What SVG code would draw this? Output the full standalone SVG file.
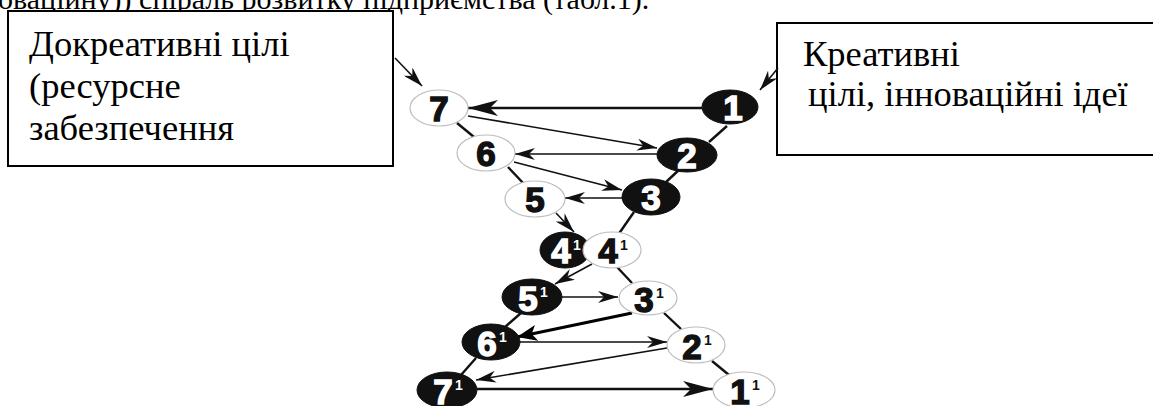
<svg xmlns="http://www.w3.org/2000/svg" width="1153" height="406" viewBox="0 0 1153 406">
<style>
.box{fill:#fff;stroke:#000;stroke-width:2}
.bt{font-family:'Liberation Serif','Times New Roman',serif;font-size:36.5px;fill:#000}
.wn{fill:#fff;stroke:#bdbdbd;stroke-width:1.2}
.bn{fill:#111;stroke:#111;stroke-width:1}
.lw{font-family:'Liberation Sans',Arial,sans-serif;font-weight:bold;font-size:35px;fill:#111;stroke:#111;stroke-width:1.4;text-anchor:middle}
.lb{font-family:'Liberation Sans',Arial,sans-serif;font-weight:bold;font-size:35px;fill:#fff;stroke:#fff;stroke-width:1.4;text-anchor:middle}
.sw{font-family:'Liberation Sans',Arial,sans-serif;font-weight:bold;font-size:14px;fill:#111}
.sb{font-family:'Liberation Sans',Arial,sans-serif;font-weight:bold;font-size:14px;fill:#fff}
.ln{stroke:#111;stroke-width:2.4;fill:none}
.ar{stroke:#111;stroke-width:1.6;fill:none;marker-end:url(#ah)}
.arb{stroke:#111;stroke-width:2.4;fill:none;marker-end:url(#ahb)}
.ark{stroke:#000;stroke-width:3.2;fill:none;marker-end:url(#ahk)}
</style>
<defs>
<marker id="ah" markerUnits="userSpaceOnUse" markerWidth="22" markerHeight="12" refX="20" refY="6" orient="auto">
<path d="M0,0 L20,6 L0,12 L6,6 z" fill="#111"/>
</marker>
<marker id="ahb" markerUnits="userSpaceOnUse" markerWidth="32" markerHeight="16" refX="30" refY="8" orient="auto">
<path d="M0,0 L30,8 L0,16 L8,8 z" fill="#111"/>
</marker>
<marker id="ahk" markerUnits="userSpaceOnUse" markerWidth="22" markerHeight="16" refX="20" refY="8" orient="auto">
<path d="M0,0 L20,8 L0,16 L5,8 z" fill="#000"/>
</marker>
</defs>

<text x="-2" y="9" font-family="Liberation Serif, Times New Roman, serif" font-size="30" fill="#000">оваційну)) спіраль розвитку підприємства (табл.1).</text>

<g id="box-left">
<rect class="box" x="8" y="11" width="385" height="155"/>
<text class="bt" x="29" y="56">Докреативні цілі</text>
<text class="bt" x="29" y="98">(ресурсне</text>
<text class="bt" x="29" y="140">забезпечення</text>
</g>
<g id="box-right">
<rect class="box" x="777" y="23" width="390" height="132"/>
<text class="bt" x="803" y="66">Креативні</text>
<text class="bt" x="808" y="106">цілі, інноваційні ідеї</text>
</g>

<g id="connectors">
<line class="ln" x1="457" y1="123" x2="474" y2="137"/>
<line class="ln" x1="508" y1="167" x2="524" y2="184"/>
<line class="ln" x1="727" y1="126" x2="709" y2="142"/>
<line class="ln" x1="681" y1="168" x2="665" y2="183"/>
<line class="ln" x1="634" y1="212" x2="618" y2="235"/>
<line class="ln" x1="617" y1="267" x2="632" y2="283"/>
<line class="ln" x1="664" y1="313" x2="681" y2="329"/>
<line class="ln" x1="712" y1="361" x2="729" y2="375"/>
<line class="ln" x1="521" y1="313" x2="505" y2="327"/>
<line class="ln" x1="476" y1="358" x2="461" y2="375"/>
<line class="ar" x1="395" y1="58" x2="422" y2="86"/>
<line class="ar" x1="778" y1="68" x2="760" y2="90"/>
<line class="arb" x1="702" y1="108" x2="468" y2="108"/>
<line class="ar" x1="468" y1="116" x2="657" y2="148"/>
<line class="ar" x1="657" y1="154" x2="515" y2="154"/>
<line class="ar" x1="514" y1="162" x2="622" y2="190"/>
<line class="ar" x1="623" y1="198" x2="565" y2="198"/>
<line class="ar" x1="556" y1="213" x2="574" y2="232"/>
<line class="ar" x1="592" y1="264" x2="555" y2="284"/>
<line class="ar" x1="562" y1="297" x2="618" y2="297"/>
<line class="ark" x1="632" y1="313" x2="517" y2="337"/>
<line class="ar" x1="520" y1="342" x2="667" y2="342"/>
<line class="ar" x1="667" y1="348" x2="476" y2="380"/>
<line class="arb" x1="477" y1="389" x2="713" y2="389"/>
</g>

<g id="n7"><ellipse class="wn" cx="439" cy="108" rx="29" ry="18"/><text class="lw" x="439" y="121">7</text></g>
<g id="n1"><ellipse class="bn" cx="730" cy="107" rx="28" ry="17"/><text class="lb" x="733" y="120">1</text></g>
<g id="n6"><ellipse class="wn" cx="486" cy="153" rx="29" ry="18"/><text class="lw" x="486" y="166">6</text></g>
<g id="n2"><ellipse class="bn" cx="687" cy="155" rx="30" ry="17"/><text class="lb" x="687" y="168">2</text></g>
<g id="n5"><ellipse class="wn" cx="535" cy="199" rx="30" ry="18"/><text class="lw" x="535" y="212">5</text></g>
<g id="n3"><ellipse class="bn" cx="651" cy="197" rx="29" ry="18"/><text class="lb" x="651" y="210">3</text></g>
<g id="n4b"><ellipse class="bn" cx="565" cy="250" rx="25" ry="18"/><text class="lb" x="561" y="263">4</text><text class="sb" x="573" y="250">1</text></g>
<g id="n4w"><ellipse class="wn" cx="612" cy="250" rx="29" ry="18"/><text class="lw" x="608" y="263">4</text><text class="sw" x="620" y="250">1</text></g>
<g id="n5p"><ellipse class="bn" cx="532" cy="297" rx="30" ry="18"/><text class="lb" x="528" y="311">5</text><text class="sb" x="540" y="297">1</text></g>
<g id="n3p"><ellipse class="wn" cx="648" cy="298" rx="29" ry="17"/><text class="lw" x="644" y="312">3</text><text class="sw" x="656" y="298">1</text></g>
<g id="n6p"><ellipse class="bn" cx="491" cy="342" rx="29" ry="18"/><text class="lb" x="487" y="356">6</text><text class="sb" x="499" y="342">1</text></g>
<g id="n2p"><ellipse class="wn" cx="696" cy="345" rx="29" ry="18"/><text class="lw" x="692" y="359">2</text><text class="sw" x="704" y="345">1</text></g>
<g id="n7p"><ellipse class="bn" cx="447" cy="390" rx="30" ry="18"/><text class="lb" x="443" y="404">7</text><text class="sb" x="455" y="390">1</text></g>
<g id="n1p"><ellipse class="wn" cx="744" cy="390" rx="31" ry="18"/><text class="lw" x="740" y="404">1</text><text class="sw" x="752" y="390">1</text></g>
</svg>
